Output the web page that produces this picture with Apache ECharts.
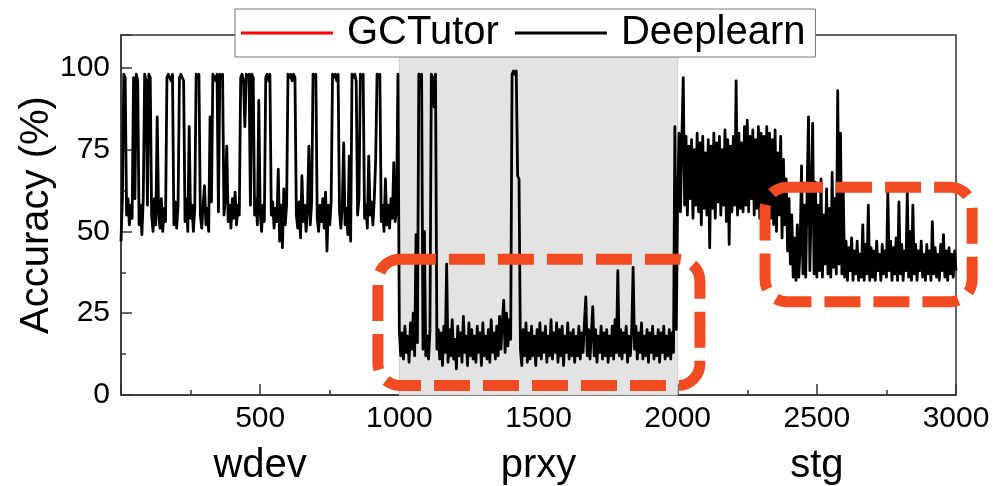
<!DOCTYPE html>
<html><head><meta charset="utf-8">
<script src="https://cdn.jsdelivr.net/npm/echarts@6/dist/echarts.min.js"></script>
<style>html,body{margin:0;padding:0;background:#fff}#c{width:993px;height:486px}</style>
</head><body><div id="c"></div>
<script>
// sampling step along x (requests)
const STEP = 5;
// wdev trace, x = 0 .. 995
const wdevValues = [
47,60,98,97,55,60,52,58,54,97,
60,98,96,52,58,49,60,98,96,58,
98,97,55,50,60,52,85,56,51,60,
50,57,53,97,98,98,96,98,52,59,
51,58,97,98,98,96,53,60,50,82,
54,58,50,57,98,97,98,55,51,58,
64,52,57,50,85,59,98,98,96,98,
56,98,97,98,55,60,76,53,58,51,
60,54,62,52,58,55,97,98,96,82,
98,97,98,58,98,97,55,60,52,90,
56,50,58,53,97,98,96,98,55,59,
51,57,53,69,47,58,45,63,52,58,
98,97,98,96,98,97,55,51,59,48,
67,53,58,50,57,76,52,59,98,97,
98,54,50,58,53,60,51,62,44,58,
52,59,98,97,98,96,98,56,51,58,
77,52,57,49,73,47,98,97,98,96,
55,60,98,97,98,54,58,51,73,55,
59,52,60,72,98,97,98,53,58,50,
66,52,58,51,60,54,71,53,57,98
];
// prxy trace, x = 1000 .. 1995
const prxyValues = [
20,12,19,11,21,13,18,10,22,14,
25,12,49,16,98,94,98,14,50,12,
18,11,20,98,97,88,98,14,20,11,
19,9,21,13,40,10,20,12,23,11,
17,8,21,12,19,10,24,13,18,9,
22,12,20,11,18,10,21,13,19,9,
22,12,18,11,20,10,23,13,19,11,
21,12,24,14,22,29,13,25,15,23,
17,98,99,98,99,67,66,14,9,20,
12,22,10,19,11,21,12,18,9,20,
12,22,11,19,13,21,10,18,12,23,
11,19,13,22,10,20,12,21,9,18,
13,22,11,19,12,20,10,18,12,21,
11,19,13,22,30,12,20,11,19,27,
12,20,10,18,13,21,11,19,12,20,
10,18,12,21,11,23,13,38,12,20,
11,19,13,21,10,18,12,20,39,14,
21,11,19,13,22,11,18,12,20,10,
19,13,21,11,18,12,20,10,19,13,
21,11,18,12,20,11,19,13,82,20
];
// stg trace, x = 2000 .. 3000
const stgValues = [
60,80,56,78,97,58,79,55,76,60,
78,54,75,58,80,56,77,52,79,57,
74,55,78,45,76,57,80,54,77,59,
79,55,75,58,81,53,78,46,76,56,
79,58,96,55,80,57,77,56,82,58,
84,56,79,60,81,55,78,57,82,54,
80,56,79,55,82,57,80,54,78,52,
81,50,74,55,79,48,72,52,66,44,
60,40,55,36,48,35,52,36,45,70,
37,58,36,62,85,38,60,83,37,65,
36,58,38,66,36,55,40,63,37,57,
36,68,39,60,37,93,40,80,37,62,
36,47,35,45,38,48,35,44,37,47,
35,43,36,52,35,46,37,58,35,45,
36,44,35,47,38,43,35,46,37,44,
36,62,38,47,35,45,37,48,35,59,
37,46,35,44,38,62,36,50,35,58,
37,46,35,44,38,47,36,43,35,46,
37,44,35,53,37,45,36,43,35,46,
38,49,36,44,35,45,37,43,36,44,
38
];
const gctutorValues = [];
const seriesNames = ['GCTutor', 'Deeplearn'];
const seriesColors = ['#ff0000', '#000000'];
const segmentNames = ['wdev', 'prxy', 'stg'];
const xMin = 0, xMax = 3000, xInterval = 500;
const yMin = 0, yMax = 110, yInterval = 25;
const shadedRange = [1000, 2000];
// annotation boxes in data units: [x1, yTop, x2, yBottom]
const highlightBoxes = [[923, 41.5, 2080, 2.9], [2314, 63.5, 3058, 28.5]];

const FONT = 'Liberation Sans, Arial, sans-serif';
const allValues = wdevValues.concat(prxyValues, stgValues);
const deeplearnData = allValues.map((v, i) => [i * STEP, v]);

const chart = echarts.init(document.getElementById('c'), null, {renderer: 'canvas'});
const axisColor = '#333';
chart.setOption({
  animation: false,
  backgroundColor: '#fff',
  grid: {left: 121, right: 37, top: 35, bottom: 89, show: true, borderColor: axisColor, borderWidth: 1.5, backgroundColor: 'transparent'},
  legend: {
    data: seriesNames.map(n => ({name: n, icon: 'rect'})),
    left: 235, top: 9, orient: 'horizontal',
    itemWidth: 92, itemHeight: 3, itemGap: 16,
    padding: [4, 10, 4, 6],
    borderColor: '#777', borderWidth: 1, backgroundColor: '#fff',
    textStyle: {fontSize: 40, fontFamily: FONT, color: '#000', padding: [0, 0, 0, 9]}
  },
  xAxis: [{
    type: 'value', min: xMin, max: xMax, interval: xInterval,
    axisLine: {show: true, lineStyle: {color: axisColor, width: 1.5}},
    axisTick: {show: true, inside: true, length: 11, lineStyle: {color: axisColor, width: 1.5}},
    minorTick: {show: true, splitNumber: 2, length: 5, lineStyle: {color: axisColor, width: 1.5}},
    splitLine: {show: false},
    axisLabel: {fontSize: 30, fontFamily: FONT, color: '#000', margin: 9,
      formatter: v => (v === xMin ? '' : String(v))}
  }, {
    type: 'category', data: segmentNames, boundaryGap: true, position: 'bottom', offset: 43,
    axisLine: {show: false}, axisTick: {show: false}, splitLine: {show: false},
    axisLabel: {fontSize: 40, fontFamily: FONT, color: '#000', margin: 8}
  }],
  yAxis: {
    type: 'value', min: yMin, max: yMax, interval: yInterval,
    name: 'Accuracy (%)', nameLocation: 'middle', nameGap: 64, nameMoveOverlap: false,
    nameTextStyle: {fontSize: 40, fontFamily: FONT, color: '#000'},
    axisLine: {show: true, lineStyle: {color: axisColor, width: 1.5}},
    axisTick: {show: true, inside: true, length: 11, lineStyle: {color: axisColor, width: 1.5}},
    minorTick: {show: true, splitNumber: 2, length: 5, lineStyle: {color: axisColor, width: 1.5}},
    splitLine: {show: false},
    axisLabel: {fontSize: 30, fontFamily: FONT, color: '#000', margin: 11,
      formatter: v => (v % yInterval === 0 ? String(v) : '')}
  },
  series: [{
    name: seriesNames[0], type: 'line', data: gctutorValues, symbol: 'none',
    lineStyle: {color: seriesColors[0], width: 2}, itemStyle: {color: seriesColors[0]}
  }, {
    name: seriesNames[1], type: 'line', data: deeplearnData, symbol: 'none',
    lineStyle: {color: seriesColors[1], width: 2.8, join: 'round'}, itemStyle: {color: seriesColors[1]},
    markArea: {silent: true, itemStyle: {color: '#e3e3e3', borderColor: '#cfcfcf', borderWidth: 1},
      data: [[{xAxis: shadedRange[0]}, {xAxis: shadedRange[1]}]]}
  }]
});

const boxGraphics = highlightBoxes.map(b => {
  const p1 = chart.convertToPixel({seriesIndex: 1}, [b[0], b[1]]);
  const p2 = chart.convertToPixel({seriesIndex: 1}, [b[2], b[3]]);
  return {
    type: 'rect', z: 10,
    shape: {x: p1[0], y: p1[1], width: p2[0] - p1[0], height: p2[1] - p1[1], r: 22},
    style: {fill: 'none', stroke: '#f24a21', lineWidth: 11, lineDash: [36, 13]}
  };
});
chart.setOption({graphic: boxGraphics});
</script>
</body></html>
